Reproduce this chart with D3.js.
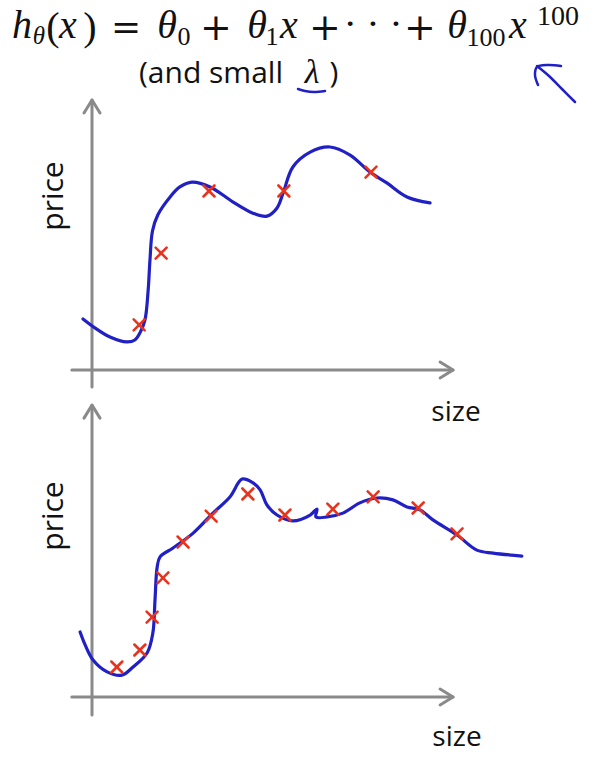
<!DOCTYPE html>
<html><head><meta charset="utf-8">
<script src="https://cdn.jsdelivr.net/npm/d3@7"></script>
<style>html,body{margin:0;padding:0;background:#fff;}svg{display:block;}</style>
</head><body>
<svg id="chart" width="599" height="758"></svg>
<script>
// ---------- data (size, price) ----------
const topPointsSize  = [13.1, 19.2, 32.5, 53.3, 77.5];
const topPointsPrice = [16.7, 43.3, 66.3, 66.3, 73.3];
const topCurveSize  = [-2.5, 0.8, 5.0, 9.7, 11.9, 13.3, 14.7, 15.6, 16.1, 16.8, 18.3, 21.7, 24.4, 27.8, 32.8, 39.2, 44.7, 48.6, 51.4, 53.1, 55.8, 60.6, 66.1, 71.7, 77.2, 81.9, 87.5, 93.9];
const topCurvePrice = [18.9, 15.6, 12.2, 10.4, 11.1, 13.7, 18.5, 29.6, 40.7, 51.5, 57.5, 64.1, 67.8, 69.6, 67.8, 62.2, 58.1, 57.0, 60.0, 65.6, 75.2, 80.7, 82.6, 79.6, 73.3, 69.3, 64.1, 61.9];

const botPointsSize  = [6.9, 13.3, 16.7, 19.7, 25.3, 33.1, 43.3, 53.6, 66.9, 78.1, 90.6, 101.4];
const botPointsPrice = [11.1, 17.4, 29.6, 44.1, 57.4, 67.0, 75.2, 67.4, 69.6, 74.1, 70.0, 60.4];
const botCurveSize  = [-3.3, -1.9, 0.3, 4.2, 8.3, 11.4, 15.3, 16.9, 17.5, 18.1, 18.9, 22.5, 28.1, 33.6, 38.3, 41.7, 44.4, 46.7, 48.6, 51.4, 55.8, 60.6, 62.5, 62.2, 65.3, 69.7, 74.4, 79.2, 83.6, 87.5, 91.1, 94.7, 101.4, 106.9, 111.4, 119.4];
const botCurvePrice = [24.1, 19.3, 13.7, 9.3, 8.1, 11.1, 16.3, 23.7, 35.9, 48.1, 51.9, 55.2, 60.7, 68.1, 74.1, 80.7, 79.6, 76.7, 71.1, 67.4, 65.2, 67.4, 69.6, 66.7, 66.7, 68.1, 71.9, 73.7, 73.0, 70.4, 69.3, 65.6, 60.0, 54.4, 53.3, 52.2];

const xAxisLabel = "size";
const yAxisLabel = "price";
const noteText = "(and small";
const noteLambda = "λ";

// pen annotations (page coordinates)
const underlineX = [298, 305, 314, 325];
const underlineY = [89, 91, 92, 91];
const arrowShaftX = [575, 562, 549, 537];
const arrowShaftY = [102, 89, 76, 66];
const arrowHeadX = [538, 535, 537, 548, 561];
const arrowHeadY = [85, 75, 67, 65, 66];

const svg = d3.select("#chart");
const BLUE = "#2020c4", RED = "#e8341e", GRAY = "#8a8a8a";

// ---------- formula ----------
const f = svg.append("g");
const serif = "'Liberation Serif', 'Times New Roman', serif";
const opFont = "'DejaVu Serif', serif";
const pieces = [
  {t:"h", cx:22, y:38, s:40, it:true},
  {t:"θ", cx:39, y:44, s:25, it:true},
  {t:"(", cx:53, y:40, s:40, it:false},
  {t:"x", cx:68, y:38, s:40, it:true},
  {t:")", cx:90, y:40, s:40, it:false},
  {t:"=", cx:126, y:39, s:36, it:false, op:true},
  {t:"θ", cx:167, y:38, s:40, it:true},
  {t:"0", cx:184, y:45, s:26, it:false},
  {t:"+", cx:216, y:40, s:38, it:false, op:true},
  {t:"θ", cx:257, y:38, s:40, it:true},
  {t:"1", cx:272, y:45, s:26, it:false},
  {t:"x", cx:289, y:38, s:40, it:true},
  {t:"+", cx:325, y:40, s:38, it:false, op:true},
  {t:"· · ·", cx:373, y:36, s:36, it:false, op:true},
  {t:"+", cx:420, y:40, s:38, it:false, op:true},
  {t:"θ", cx:457, y:38, s:40, it:true},
  {t:"100", cx:486, y:46, s:26, it:false},
  {t:"x", cx:518, y:38, s:40, it:true},
  {t:"100", cx:558, y:25, s:28, it:false}
];
f.selectAll("text").data(pieces).enter().append("text")
  .attr("x", d => d.cx).attr("y", d => d.y)
  .attr("text-anchor", "middle")
  .attr("font-family", d => d.op ? opFont : serif)
  .attr("font-style", d => d.it ? "italic" : "normal")
  .attr("font-size", d => d.s)
  .attr("fill", "#111")
  .text(d => d.t);

const sans = "'Open Sans', 'Liberation Sans', sans-serif";
svg.append("text").attr("x", 139).attr("y", 83)
  .attr("font-family", sans).attr("font-size", 30).attr("fill", "#111")
  .text(noteText);
svg.append("text").attr("x", 312).attr("y", 83).attr("text-anchor", "middle")
  .attr("font-family", serif).attr("font-style", "italic").attr("font-size", 34).attr("fill", "#111")
  .text(noteLambda);
svg.append("text").attr("x", 334).attr("y", 83).attr("text-anchor", "middle")
  .attr("font-family", sans).attr("font-size", 30).attr("fill", "#111")
  .text(")");

const pen = d3.line().curve(d3.curveCatmullRom);
svg.append("path").attr("d", pen(underlineX.map((x,i)=>[x, underlineY[i]])))
  .attr("fill","none").attr("stroke",BLUE).attr("stroke-width",2.5).attr("stroke-linecap","round");
svg.append("path").attr("d", pen(arrowShaftX.map((x,i)=>[x, arrowShaftY[i]])))
  .attr("fill","none").attr("stroke",BLUE).attr("stroke-width",2.5).attr("stroke-linecap","round");
svg.append("path").attr("d", pen(arrowHeadX.map((x,i)=>[x, arrowHeadY[i]])))
  .attr("fill","none").attr("stroke",BLUE).attr("stroke-width",2.5).attr("stroke-linecap","round").attr("stroke-linejoin","round");

// ---------- panels ----------
function panel(cfg, ptsX, ptsY, crvX, crvY) {
  const x = d3.scaleLinear().domain([0, 100]).range([cfg.x0, cfg.x0 + 360]);
  const y = d3.scaleLinear().domain([0, 100]).range([cfg.y0, cfg.y0 - 270]);
  const g = svg.append("g");
  const ax = g.append("g").attr("stroke", GRAY).attr("stroke-width", 3).attr("fill", "none").attr("stroke-linecap","round");
  ax.append("line").attr("x1", x(0)).attr("x2", x(0)).attr("y1", y(cfg.yBelow)).attr("y2", y(cfg.yTop));
  ax.append("path").attr("d", `M${x(0)-8},${y(cfg.yTop)+13} L${x(0)},${y(cfg.yTop)} L${x(0)+8},${y(cfg.yTop)+13}`).attr("stroke-linejoin","round");
  ax.append("line").attr("x1", x(cfg.xLeft)).attr("x2", x(cfg.xRight)).attr("y1", y(0)).attr("y2", y(0));
  ax.append("path").attr("d", `M${x(cfg.xRight)-13},${y(0)-8} L${x(cfg.xRight)},${y(0)} L${x(cfg.xRight)-13},${y(0)+8}`).attr("stroke-linejoin","round");

  const line = d3.line().x(d => x(d[0])).y(d => y(d[1])).curve(d3.curveCatmullRom.alpha(0.5));
  g.append("path").attr("d", line(crvX.map((v,i)=>[v, crvY[i]])))
    .attr("fill","none").attr("stroke",BLUE).attr("stroke-width",3.2).attr("stroke-linecap","round").attr("stroke-linejoin","round");

  const r = 5.5;
  const cr = g.selectAll("g.cross").data(ptsX.map((v,i)=>[v, ptsY[i]])).enter().append("g")
    .attr("transform", d => `translate(${x(d[0])},${y(d[1])})`)
    .attr("stroke", RED).attr("stroke-width", 2.6).attr("stroke-linecap","round");
  cr.append("line").attr("x1",-r).attr("y1",-r).attr("x2",r).attr("y2",r);
  cr.append("line").attr("x1",-r).attr("y1",r).attr("x2",r).attr("y2",-r);

  g.append("text").attr("transform", `translate(${cfg.priceX},${cfg.priceY}) rotate(-90)`)
    .attr("text-anchor","middle").attr("font-family", sans).attr("font-size", 30).attr("fill","#111")
    .text(yAxisLabel);
  g.append("text").attr("x", cfg.sizeX).attr("y", cfg.sizeY).attr("text-anchor","middle")
    .attr("font-family", sans).attr("font-size", 28).attr("fill","#111")
    .text(xAxisLabel);
}

panel({x0:92, y0:370, yTop:100, yBelow:-6.3, xLeft:-5.6, xRight:100.3, priceX:63, priceY:196, sizeX:456, sizeY:421},
      topPointsSize, topPointsPrice, topCurveSize, topCurvePrice);
panel({x0:92, y0:697, yTop:108.1, yBelow:-6.7, xLeft:-5.6, xRight:100.3, priceX:63, priceY:516, sizeX:457, sizeY:746},
      botPointsSize, botPointsPrice, botCurveSize, botCurvePrice);
</script>
</body></html>
